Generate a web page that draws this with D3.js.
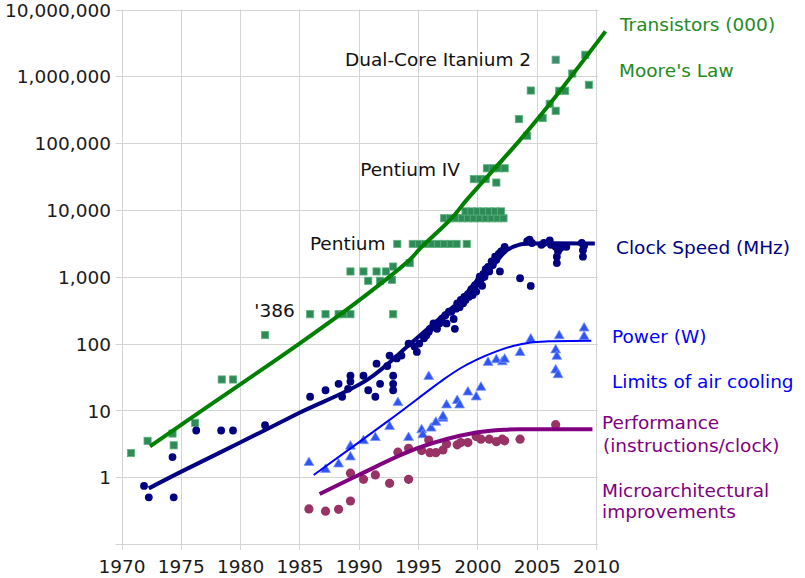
<!DOCTYPE html>
<html>

<head>
    <style>
        body {
            margin: 0;
            background: white;
        }

        svg text {
            font-family: "DejaVu Sans", sans-serif;
            font-size: 18.5px;
        }
    </style>
</head>

<body>
    <div id="chart"></div>
    <script src="https://d3js.org/d3.v7.min.js"></script>
    <script>

        // ---- data (year, value) ----
        const xTicks = [1970, 1975, 1980, 1985, 1990, 1995, 2000, 2005, 2010]
        const yTicks = [0.1, 1, 10, 100, 1e3, 1e4, 1e5, 1e6, 1e7]

        const transistors = [
            [1970.8, 2.3], [1972.2, 3.5], [1974.3, 4.5], [1974.4, 3.0], [1976.2, 6.5],
            [1978.45, 29], [1979.4, 29], [1982.1, 134],
            [1985.9, 275], [1987.2, 275], [1988.3, 275], [1988.7, 275], [1989.3, 275], [1992.9, 275],
            [1989.3, 1200], [1990.4, 1200], [1990.8, 870], [1991.5, 1200], [1991.8, 870],
            [1992.3, 1200], [1992.8, 900], [1992.9, 1420], [1994.3, 1600],
            [1993.25, 3100], [1994.55, 3100], [1995.1, 3100], [1995.6, 3100], [1996.15, 3100],
            [1996.7, 3100], [1997.2, 3100], [1997.75, 3100], [1998.25, 3100], [1999.1, 3100],
            [1997.2, 7500], [1997.7, 7500], [1998.2, 7500], [1998.7, 7500], [1999.2, 7500], [1999.7, 7500],
            [2000.2, 7500], [2000.7, 7500], [2001.2, 7500], [2001.7, 7500], [2002.2, 7500],
            [1999.0, 9500], [1999.5, 9500], [2000.0, 9500], [2000.5, 9500], [2001.0, 9500],
            [2001.5, 9500], [2002.0, 9500],
            [1999.7, 28900], [2000.2, 28900], [2000.7, 28900], [2001.6, 25700],
            [2000.8, 42000], [2001.3, 42000], [2001.8, 42000], [2002.3, 42000],
            [2003.5, 229000], [2004.2, 129000], [2004.5, 613000], [2005.5, 237000], [2006.1, 388000],
            [2006.6, 305000], [2006.9, 607000], [2007.4, 607000], [2008.0, 1100000],
            [2009.1, 2100000], [2009.4, 746000]
        ]
        const itanium = [[2006.6, 1770000]]

        const clock = [
            [1971.9, 0.74], [1972.3, 0.5], [1974.3, 2], [1974.4, 0.5], [1976.3, 5], [1978.4, 5],
            [1979.4, 5], [1982.1, 6],
            [1985.9, 16], [1987.2, 20], [1988.3, 25], [1988.6, 16], [1989.1, 21], [1989.3, 27],
            [1989.3, 33], [1990.4, 33], [1990.8, 20], [1991.4, 16], [1991.5, 50], [1991.8, 25],
            [1992.4, 46], [1992.6, 66], [1992.9, 33], [1992.9, 25], [1992.9, 20], [1993.2, 60],
            [1993.6, 66], [1994.2, 100], [1994.7, 90], [1994.9, 75], [1995.1, 100],
            [1995.5, 120], [1995.7, 133], [1995.9, 150], [1996.0, 166], [1996.3, 200], [1996.3, 180],
            [1996.6, 166], [1996.8, 200], [1997.0, 233], [1997.3, 266], [1997.4, 200], [1997.6, 300],
            [1997.8, 300], [1998.0, 233], [1998.1, 166], [1998.2, 333], [1998.3, 400], [1998.5, 350],
            [1998.6, 450], [1998.8, 400], [1998.9, 500], [1999.0, 450], [1999.2, 550], [1999.3, 500],
            [1999.4, 600], [1999.5, 650], [1999.6, 533], [1999.7, 700], [1999.8, 750], [1999.9, 600],
            [2000.0, 800], [2000.1, 866], [2000.2, 1000], [2000.3, 933], [2000.4, 733], [2000.5, 1100],
            [2000.6, 1000], [2000.7, 1300], [2000.9, 1400], [2001.0, 1200], [2001.2, 1700],
            [2001.3, 1500], [2001.5, 2000], [2001.6, 1800], [2001.8, 2200], [2001.9, 1200],
            [2002.0, 2400], [2002.2, 2500], [2002.3, 2800],
            [2003.6, 950], [2004.5, 730],
            [2004.2, 3400], [2004.4, 3600], [2004.6, 3200], [2005.4, 3000], [2005.6, 3200],
            [2006.1, 3500], [2006.2, 3000], [2006.6, 2800], [2006.7, 2000], [2006.7, 1600],
            [2006.8, 2400], [2007.0, 2700], [2007.2, 2900], [2007.5, 2800], [2008.8, 3200],
            [2008.9, 2500], [2008.9, 2000], [2009.0, 2900]
        ]

        const power = [
            [1985.8, 1.65], [1987.2, 1.3], [1988.3, 1.57], [1989.3, 2.0], [1989.3, 2.9], [1990.4, 3.5],
            [1991.4, 3.9], [1992.6, 5.7], [1993.3, 13], [1994.2, 3.9], [1995.3, 5.1], [1995.4, 4.3],
            [1995.9, 32], [1996.1, 5.4], [1996.5, 6.6], [1997.1, 7.6], [1997.1, 8.1], [1997.4, 12],
            [1998.3, 14], [1998.5, 12], [1999.2, 18.7], [1999.9, 15.8], [2000.3, 22],
            [2000.9, 52], [2001.6, 57], [2002.1, 53], [2002.3, 58], [2003.6, 73], [2004.5, 116],
            [2006.6, 80], [2006.7, 64], [2006.6, 40], [2006.8, 34], [2006.9, 130],
            [2009.0, 170], [2009.0, 127]
        ]

        const perf = [
            [1985.8, 0.335], [1987.2, 0.31], [1988.3, 0.33], [1989.3, 0.44], [1989.3, 1.15],
            [1990.4, 0.93], [1991.4, 1.08], [1992.6, 0.81], [1993.3, 2.37], [1994.2, 0.93],
            [1994.2, 2.7], [1995.3, 2.5], [1995.9, 3.6], [1996.0, 2.33], [1996.5, 2.33],
            [1997.1, 2.56], [1997.4, 3.15], [1998.3, 3.05], [1998.6, 3.3], [1999.2, 3.3],
            [1999.9, 4.05], [2000.3, 3.7], [2001.0, 3.7], [2001.6, 3.4], [2002.1, 3.7],
            [2002.3, 3.5], [2003.6, 3.7], [2006.6, 6.1]
        ]

        // fitted trend curves
        const mooreFit = [[1972.4, 2.9], [1978, 14], [1985, 100], [1990, 440], [1994.3, 1800],
        [1995.2, 2680], [1997.84, 7540], [1999.1, 14160], [2003.6, 112000], [2006.6, 500000],
        [2010.8, 4700000]]
        const clockFit = [[1972.3, 0.68], [1975, 1.2], [1980, 3.3], [1985, 9.2], [1990.7, 28.6],
        [1994.4, 101], [1997, 255], [2000.2, 800], [2001.5, 1600], [2002.5, 2500], [2003.5, 3000],
        [2004.7, 3150], [2009.9, 3150]]
        const powerFit = [[1986.2, 1.08], [1992.6, 7.2], [1997.1, 28.6], [1998.5, 42], [2000, 58],
        [2001.5, 75], [2003, 92], [2004.5, 104], [2006, 108], [2009.6, 110]]
        const perfFit = [[1986.7, 0.56], [1990, 1.08], [1994.9, 2.7], [1999.9, 4.65], [2002.5, 5.15],
        [2004, 5.2], [2009.7, 5.2]]

        // in-plot annotations: text, year, value at baseline
        const notes = [
            ["Dual-Core Itanium 2", 1988.84, 1410000],
            ["Pentium IV", 1990.12, 32400],
            ["Pentium", 1985.88, 2530],
            ["'386", 1981.2, 251]
        ]

        const seriesLabels = [
            ["Transistors (000)", "#228b22"],
            ["Moore's Law", "#228b22"],
            ["Clock Speed (MHz)", "#000080"],
            ["Power (W)", "#0000ff"],
            ["Limits of air cooling", "#0000ff"],
            ["Performance", "#800080"],
            ["(instructions/clock)", "#800080"],
            ["Microarchitectural", "#800080"],
            ["improvements", "#800080"]
        ]

        // ---- layout ----
        const width = 805
        const height = 578

        let x = d3.scaleLinear().domain([1970, 2010]).range([121.5, 596])
        let y = d3.scaleLog().domain([0.1, 1e7]).range([544, 9.5])

        let svg = d3.select("#chart")
            .append("svg")
            .attr("width", width)
            .attr("height", height)

        // grid
        let grid = svg.append("g").attr("stroke", "#d4d4d4").attr("stroke-width", 1)
        grid.selectAll(".gx")
            .data(xTicks)
            .enter().append("line")
            .attr("x1", d => Math.round(x(d)) + 0.5)
            .attr("x2", d => Math.round(x(d)) + 0.5)
            .attr("y1", y(1e7))
            .attr("y2", y(0.1) + 6)
        grid.selectAll(".gy")
            .data(yTicks)
            .enter().append("line")
            .attr("x1", x(1970) - 6)
            .attr("x2", x(2010) + 2)
            .attr("y1", d => Math.round(y(d)) + 0.5)
            .attr("y2", d => Math.round(y(d)) + 0.5)

        // axes (labels only, grid above draws the ticks)
        let yAxis = d3.axisLeft(y)
            .tickValues(yTicks)
            .tickFormat(d => d >= 1 ? d3.format(",")(d) : "")
            .tickSize(6)
            .tickPadding(4.5)
        let gy = svg.append("g")
            .attr("transform", `translate(${x(1970)},0)`)
            .call(yAxis)
        gy.select(".domain").remove()
        gy.selectAll("line").remove()
        gy.selectAll("text").attr("fill", "#1a1a1a").attr("dy", "0.36em")

        let xAxis = d3.axisBottom(x)
            .tickValues(xTicks)
            .tickFormat(d3.format("d"))
            .tickSize(6)
            .tickPadding(9.4)
        let gx = svg.append("g")
            .attr("transform", `translate(0,${y(0.1)})`)
            .call(xAxis)
        gx.select(".domain").remove()
        gx.selectAll("line").remove()
        gx.selectAll("text").attr("fill", "#1a1a1a")

        // ---- points ----
        svg.append("g")
            .selectAll("rect")
            .data(transistors)
            .enter().append("rect")
            .attr("x", d => x(d[0]) - 3.6)
            .attr("y", d => y(d[1]) - 3.6)
            .attr("width", 7.2)
            .attr("height", 7.2)
            .attr("fill", "#2e8b57")
            .attr("stroke", "#5cb37d")
            .attr("stroke-width", 0.8)

        svg.append("g")
            .selectAll("rect")
            .data(itanium)
            .enter().append("rect")
            .attr("x", d => x(d[0]) - 3.6)
            .attr("y", d => y(d[1]) - 3.6)
            .attr("width", 7.2)
            .attr("height", 7.2)
            .attr("fill", "#3c8c6e")
            .attr("stroke", "#6aa892")
            .attr("stroke-width", 0.8)

        svg.append("g")
            .selectAll("circle")
            .data(clock)
            .enter().append("circle")
            .attr("cx", d => x(d[0]))
            .attr("cy", d => y(d[1]))
            .attr("r", 3.9)
            .attr("fill", "#000080")

        let tri = d3.symbol().type(d3.symbolTriangle).size(42)
        svg.append("g")
            .selectAll("path")
            .data(power)
            .enter().append("path")
            .attr("d", tri)
            .attr("transform", d => `translate(${x(d[0])},${y(d[1])})`)
            .attr("fill", "#2f55f5")
            .attr("stroke", "#7a95ff")
            .attr("stroke-width", 0.8)

        svg.append("g")
            .selectAll("circle")
            .data(perf)
            .enter().append("circle")
            .attr("cx", d => x(d[0]))
            .attr("cy", d => y(d[1]))
            .attr("r", 4.6)
            .attr("fill", "#993366")

        // ---- trend lines ----
        let line = d3.line()
            .x(d => x(d[0]))
            .y(d => y(d[1]))
            .curve(d3.curveCatmullRom.alpha(0.5))

        svg.append("path").datum(mooreFit)
            .attr("d", line).attr("fill", "none")
            .attr("stroke", "#008000").attr("stroke-width", 4)
        svg.append("path").datum(clockFit)
            .attr("d", line).attr("fill", "none")
            .attr("stroke", "#000080").attr("stroke-width", 4)
        svg.append("path").datum(powerFit)
            .attr("d", line).attr("fill", "none")
            .attr("stroke", "#0000ff").attr("stroke-width", 2)
        svg.append("path").datum(perfFit)
            .attr("d", line).attr("fill", "none")
            .attr("stroke", "#800080").attr("stroke-width", 4)

        // ---- text ----
        svg.append("g")
            .selectAll("text")
            .data(notes)
            .enter().append("text")
            .attr("x", d => x(d[1]))
            .attr("y", d => y(d[2]))
            .attr("fill", "#111")
            .text(d => d[0])

        const labelX = [620, 619, 616, 612, 612, 602, 603, 602, 602]
        const labelY = [31, 77, 254, 342.5, 387.7, 429.3, 451.7, 496.7, 518.3]
        svg.append("g")
            .selectAll("text")
            .data(seriesLabels)
            .enter().append("text")
            .attr("x", (d, i) => labelX[i])
            .attr("y", (d, i) => labelY[i])
            .attr("fill", d => d[1])
            .text(d => d[0])

    </script>
</body>

</html>
